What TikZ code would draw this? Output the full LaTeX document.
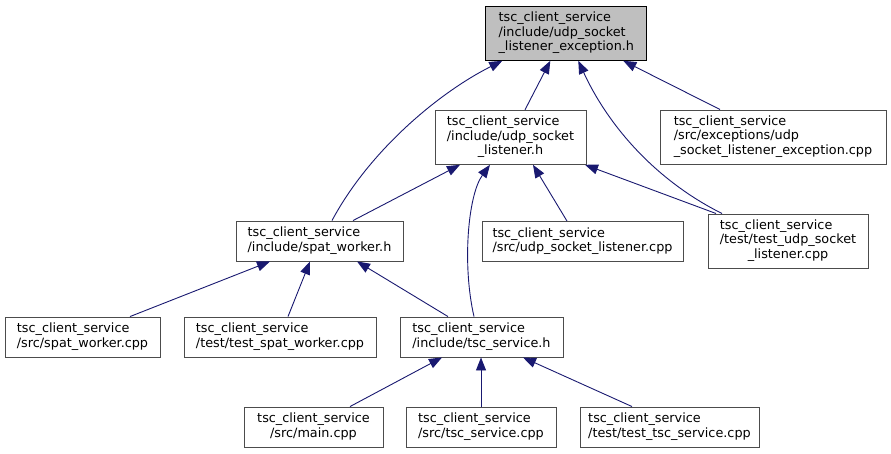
\documentclass[tikz,border=0pt]{standalone}
\usepackage{fontspec}
\setmainfont{DejaVu Sans}
\usepackage{xcolor}
\usepackage{tikz}
\usetikzlibrary{arrows.meta,positioning}

\definecolor{edgeblue}{HTML}{191970}
\newcommand{\fileline}[2]{\begin{tabular}{@{}l@{}}#1\\\multicolumn{1}{@{}c@{}}{#2}\end{tabular}}

\begin{document}
\begin{tikzpicture}[x=1pt,y=-1pt,
  file/.style={draw=black!70,fill=white,line width=0.9pt,inner xsep=0pt,inner ysep=5pt,
    minimum height=40pt,font=\fontsize{12.8}{14.7}\selectfont},
  rootfile/.style={file,draw=black,fill=black!25},
  dep/.style={{Triangle[length=13pt,width=10pt]}-,draw=edgeblue,line width=0.9pt}]
  \useasboundingbox (0,0) rectangle (891,453);

  \node[rootfile,minimum width=161pt] (root) at (566.3,33.3)
    {\fileline{tsc\_client\_service\\/include/udp\_socket}{\_listener\_exception.h}};
  \node[file,minimum width=151pt] (udph) at (510.5,137.3)
    {\fileline{tsc\_client\_service\\/include/udp\_socket}{\_listener.h}};
  \node[file,minimum width=226pt] (exccpp) at (773,137)
    {\fileline{tsc\_client\_service\\/src/exceptions/udp}{\_socket\_listener\_exception.cpp}};
  \node[file,minimum width=167pt] (spath) at (319.5,241)
    {\fileline{tsc\_client\_service}{/include/spat\_worker.h}};
  \node[file,minimum width=201pt] (udpcpp) at (582.5,241.5)
    {\fileline{tsc\_client\_service}{/src/udp\_socket\_listener.cpp}};
  \node[file,minimum width=160pt] (testudp) at (788,241)
    {\fileline{tsc\_client\_service\\/test/test\_udp\_socket}{\_listener.cpp}};
  \node[file,minimum width=155pt] (spatcpp) at (82.5,337)
    {\fileline{tsc\_client\_service}{/src/spat\_worker.cpp}};
  \node[file,minimum width=192pt] (testspat) at (280,337)
    {\fileline{tsc\_client\_service}{/test/test\_spat\_worker.cpp}};
  \node[file,minimum width=163pt] (tsch) at (481.5,337)
    {\fileline{tsc\_client\_service}{/include/tsc\_service.h}};
  \node[file,minimum width=139pt] (maincpp) at (313.5,427)
    {\fileline{tsc\_client\_service}{/src/main.cpp}};
  \node[file,minimum width=150pt] (tsccpp) at (481,427)
    {\fileline{tsc\_client\_service}{/src/tsc\_service.cpp}};
  \node[file,minimum width=179pt] (testtsc) at (669.5,427)
    {\fileline{tsc\_client\_service}{/test/test\_tsc\_service.cpp}};

  \draw[dep] ([xshift=-64pt]root.south) .. controls +(-62,31) and +(38,-71) .. ([xshift=12.5pt]spath.north);
  \draw[dep] ([xshift=-16pt]root.south) -- ([xshift=14.5pt]udph.north);
  \draw[dep] ([xshift=12pt]root.south) .. controls +(28,61) and +(-70,-35) .. ([xshift=-66pt]testudp.north);
  \draw[dep] ([xshift=57pt]root.south) -- ([xshift=-53pt]exccpp.north);

  \draw[dep] ([xshift=-50.5pt]udph.south) -- ([xshift=33.5pt]spath.north);
  \draw[dep] ([xshift=-20.5pt]udph.south) .. controls +(-22,30) and +(-12,-52) .. ([xshift=-7.5pt]tsch.north);
  \draw[dep] ([xshift=22.5pt]udph.south) -- ([xshift=-15.5pt]udpcpp.north);
  \draw[dep] ([xshift=74.5pt]udph.south) -- ([xshift=-72pt]testudp.north);

  \draw[dep] ([xshift=-49.5pt]spath.south) -- ([xshift=47.5pt]spatcpp.north);
  \draw[dep] ([xshift=-9.5pt]spath.south) -- ([xshift=8pt]testspat.north);
  \draw[dep] ([xshift=37.5pt]spath.south) -- ([xshift=-33.5pt]tsch.north);

  \draw[dep] ([xshift=-39.5pt]tsch.south) -- ([xshift=36.5pt]maincpp.north);
  \draw[dep] (tsccpp.north |- tsch.south) -- (tsccpp.north);
  \draw[dep] ([xshift=41.5pt]tsch.south) -- ([xshift=-37.5pt]testtsc.north);
\end{tikzpicture}
\end{document}
